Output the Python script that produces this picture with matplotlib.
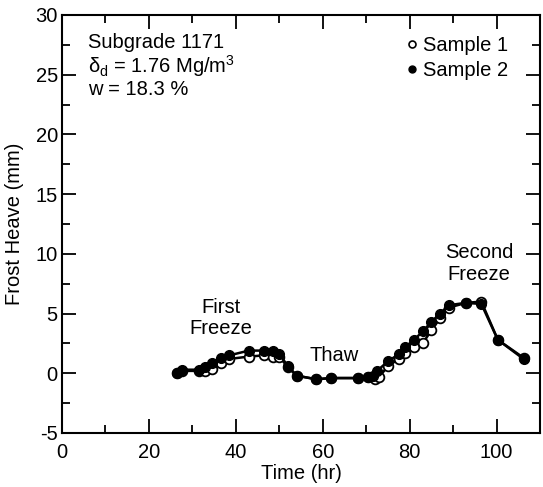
import matplotlib
matplotlib.use("Agg")
import matplotlib.pyplot as plt
from matplotlib.lines import Line2D
from matplotlib.ticker import MultipleLocator

## frost heave readings ##
time_s1 = [26.5, 27.5, 31.5, 33.0, 34.5, 36.5, 38.5, 43.0, 46.5, 48.5, 50.0, 52.0, 54.0,
           58.5, 62.0, 68.0, 70.5, 72.0, 73.0, 75.0, 77.5, 79.0, 81.0, 83.0, 85.0, 87.0,
           89.0, 93.0, 96.5, 100.3, 106.2]
heave_s1 = [0.0, 0.2, 0.2, 0.2, 0.4, 0.9, 1.2, 1.4, 1.5, 1.4, 1.4, 0.5, -0.2,
            -0.5, -0.4, -0.4, -0.3, -0.5, -0.3, 0.6, 1.2, 1.7, 2.2, 2.5, 3.6, 4.6,
            5.5, 5.9, 6.0, 2.8, 1.3]

time_s2 = [26.5, 27.5, 31.5, 33.0, 34.5, 36.5, 38.5, 43.0, 46.5, 48.5, 50.0, 52.0, 54.0,
           58.5, 62.0, 68.0, 70.5, 71.5, 72.5, 75.0, 77.5, 79.0, 81.0, 83.0, 85.0, 87.0,
           89.0, 93.0, 96.5, 100.3, 106.2]
heave_s2 = [0.0, 0.3, 0.3, 0.5, 0.9, 1.3, 1.5, 1.9, 1.9, 1.9, 1.6, 0.6, -0.2,
            -0.5, -0.4, -0.4, -0.3, -0.2, 0.2, 1.0, 1.6, 2.2, 2.8, 3.5, 4.3, 5.0,
            5.7, 5.9, 5.8, 2.8, 1.2]

FS = 14.5
plt.rcParams['font.family'] = ['Liberation Sans', 'DejaVu Sans']
plt.rcParams['mathtext.fontset'] = 'custom'
plt.rcParams['mathtext.rm'] = 'Liberation Sans'
plt.rcParams['mathtext.it'] = 'Liberation Sans'
plt.rcParams['axes.unicode_minus'] = False
plt.rcParams['font.size'] = FS

fig = plt.figure(figsize=(5.43, 4.87), dpi=100)
ax = fig.add_axes([0.1142, 0.1109, 0.8803, 0.8583])

# sample 2 drawn on top, like the original
ax.plot(time_s1, heave_s1, color='black', lw=1.8, marker='o', ms=7,
        mfc='white', mec='black', mew=1.3, zorder=2)
ax.plot(time_s2, heave_s2, color='black', lw=1.8, marker='o', ms=7,
        mfc='black', mec='black', zorder=3)

ax.set_xlim(0, 110)
ax.set_ylim(-5, 30)
ax.xaxis.set_major_locator(MultipleLocator(20))
ax.xaxis.set_minor_locator(MultipleLocator(10))
ax.yaxis.set_major_locator(MultipleLocator(5))
ax.yaxis.set_minor_locator(MultipleLocator(2.5))
ax.tick_params(which='both', direction='in', top=True, right=True, width=1.3)
ax.tick_params(which='major', length=10, labelsize=FS)
ax.tick_params(axis='x', which='major', pad=7)
ax.tick_params(axis='y', which='major', pad=3)
ax.tick_params(which='minor', length=6)
for s in ax.spines.values():
    s.set_linewidth(1.5)

ax.set_xlabel('Time (hr)', fontsize=FS, labelpad=2)
ax.set_ylabel('Frost Heave (mm)', fontsize=FS, labelpad=8)

ax.text(0.055, 0.935, 'Subgrade 1171', transform=ax.transAxes, va='center')
ax.text(0.055, 0.878, r'$\delta_{\rm d}$ = 1.76 Mg/m$^{3}$', transform=ax.transAxes,
        va='center')
ax.text(0.055, 0.822, 'w = 18.3 %', transform=ax.transAxes, va='center')

ax.text(36.6, 4.6, 'First\nFreeze', ha='center', va='center', linespacing=1.15)
ax.text(62.7, 1.5, 'Thaw', ha='center', va='center')
ax.text(96.0, 9.2, 'Second\nFreeze', ha='center', va='center', linespacing=1.15)

handles = [Line2D([], [], ls='none', marker='o', ms=5, mfc='white', mec='black', mew=1.2),
           Line2D([], [], ls='none', marker='o', ms=5, mfc='black', mec='black')]
ax.legend(handles, ['Sample 1', 'Sample 2'], loc='upper right', frameon=False,
          fontsize=FS, handlelength=0.6, handletextpad=0.25, labelspacing=0.3,
          borderaxespad=0.0, bbox_to_anchor=(0.95, 0.968))

fig.savefig('out.png', dpi=100)
